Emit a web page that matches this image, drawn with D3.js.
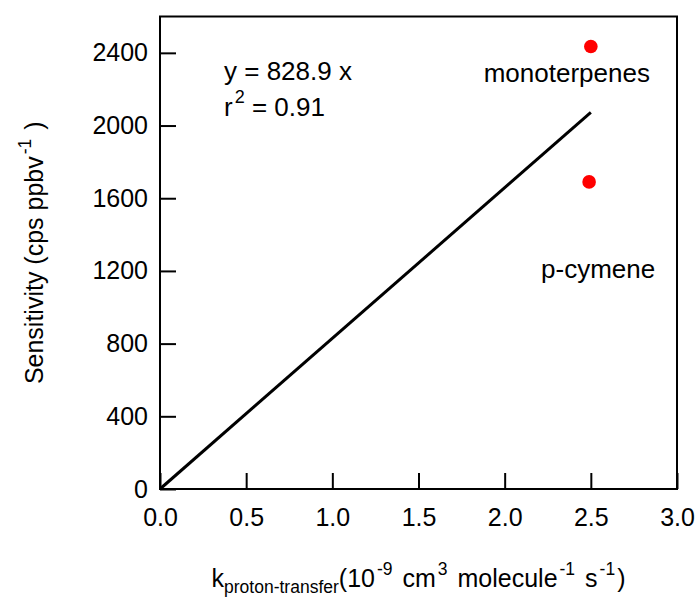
<!DOCTYPE html>
<html>
<head>
<meta charset="utf-8">
<script src="https://cdn.jsdelivr.net/npm/d3@7"></script>
<style>
  html, body { margin: 0; padding: 0; background: #fff; }
  svg { display: block; font-family: "Liberation Sans", Arial, Helvetica, sans-serif; }
</style>
</head>
<body>
<svg id="chart" width="697" height="599"></svg>
<script>
// Measured compounds: proton-transfer rate constant vs. sensitivity
const speciesNames = ["monoterpenes", "p-cymene"];
const kValues = [2.5, 2.49];
const sensitivities = [2435, 1690];

// Linear fit through the origin
const fitSlope = 828.9;
const fitR2 = 0.91;
const fitRange = [0, 2.5];

// Axis ticks
const xTicks = [0, 0.5, 1.0, 1.5, 2.0, 2.5, 3.0];
const yTicks = [0, 400, 800, 1200, 1600, 2000, 2400];
const xDomain = [0, 3];
const yDomain = [0, 2600];

const svg = d3.select("#chart");
const plot = { left: 160, right: 677, top: 16.5, bottom: 489 };

const x = d3.scaleLinear().domain(xDomain).range([plot.left, plot.right]);
const y = d3.scaleLinear().domain(yDomain).range([plot.bottom, plot.top]);

const tickFont = 25;

// Y axis (ticks point inward)
const yAxis = svg.append("g")
  .attr("transform", `translate(${plot.left},0)`)
  .call(d3.axisLeft(y).tickValues(yTicks).tickFormat(d3.format("d"))
    .tickSizeInner(-16).tickSizeOuter(0).tickPadding(12));
yAxis.select(".domain").remove();
yAxis.selectAll(".tick line").attr("stroke", "#000").attr("stroke-width", 2);
yAxis.selectAll(".tick text")
  .attr("fill", "#000").attr("font-size", tickFont)
  .attr("font-family", "Liberation Sans, Arial, sans-serif");

// X axis (ticks point inward)
const xAxis = svg.append("g")
  .attr("transform", `translate(0,${plot.bottom})`)
  .call(d3.axisBottom(x).tickValues(xTicks).tickFormat(d3.format(".1f"))
    .tickSizeInner(-16).tickSizeOuter(0).tickPadding(19));
xAxis.select(".domain").remove();
xAxis.selectAll(".tick line").attr("stroke", "#000").attr("stroke-width", 2);
xAxis.selectAll(".tick text")
  .attr("fill", "#000").attr("font-size", tickFont)
  .attr("font-family", "Liberation Sans, Arial, sans-serif");

// Plot frame
svg.append("rect")
  .attr("x", plot.left).attr("y", plot.top)
  .attr("width", plot.right - plot.left).attr("height", plot.bottom - plot.top)
  .attr("fill", "none").attr("stroke", "#000").attr("stroke-width", 2);

// Fit line
const fitPoints = fitRange.map(k => [k, fitSlope * k]);
svg.append("path")
  .datum(fitPoints)
  .attr("d", d3.line().x(d => x(d[0])).y(d => y(d[1])))
  .attr("fill", "none").attr("stroke", "#000").attr("stroke-width", 3);

// Data points
const points = speciesNames.map((name, i) => ({ name, k: kValues[i], s: sensitivities[i] }));
svg.append("g").selectAll("circle")
  .data(points).join("circle")
  .attr("cx", d => x(d.k)).attr("cy", d => y(d.s))
  .attr("r", 6.8).attr("fill", "#ff0000");

// Compound labels (offset from their markers)
const labelOffsets = { "monoterpenes": [-24, 36], "p-cymene": [9, 96] };
svg.append("g").selectAll("text")
  .data(points).join("text")
  .attr("x", d => x(d.k) + labelOffsets[d.name][0])
  .attr("y", d => y(d.s) + labelOffsets[d.name][1])
  .attr("text-anchor", "middle").attr("font-size", 26).attr("fill", "#000")
  .text(d => d.name);

// Fit equation
const eq = svg.append("g").attr("font-size", 26).attr("fill", "#000");
eq.append("text").attr("x", 224).attr("y", 80).text(`y = ${fitSlope} x`);
const r2 = eq.append("text").attr("x", 224).attr("y", 116);
r2.append("tspan").text("r");
r2.append("tspan").attr("font-size", 18).attr("dy", -13).attr("dx", 2).text("2");
r2.append("tspan").attr("dy", 13).text(` = ${fitR2}`);

// X axis title
const xt = svg.append("text")
  .attr("x", (plot.left + plot.right) / 2).attr("y", 587)
  .attr("text-anchor", "middle").attr("font-size", 25).attr("fill", "#000");
xt.append("tspan").text("k");
xt.append("tspan").attr("font-size", 17.5).attr("dy", 6).text("proton-transfer");
xt.append("tspan").attr("dy", -6).text("(10");
xt.append("tspan").attr("font-size", 17.5).attr("dy", -12).attr("dx", 2).text("-9");
xt.append("tspan").attr("dy", 12).attr("dx", 3).text(" cm");
xt.append("tspan").attr("font-size", 17.5).attr("dy", -12).attr("dx", 2).text("3");
xt.append("tspan").attr("dy", 12).attr("dx", 3).text(" molecule");
xt.append("tspan").attr("font-size", 17.5).attr("dy", -12).attr("dx", 2).text("-1");
xt.append("tspan").attr("dy", 12).attr("dx", 3).text(" s");
xt.append("tspan").attr("font-size", 17.5).attr("dy", -12).attr("dx", 2).text("-1");
xt.append("tspan").attr("dy", 12).attr("dx", 2).text(")");

// Y axis title
const yt = svg.append("text")
  .attr("transform", `translate(43,${(plot.top + plot.bottom) / 2}) rotate(-90)`)
  .attr("text-anchor", "middle").attr("font-size", 25).attr("fill", "#000");
yt.append("tspan").text("Sensitivity (cps ppbv");
yt.append("tspan").attr("font-size", 17.5).attr("dy", -12).attr("dx", 2).text("-1");
yt.append("tspan").attr("dy", 12).attr("dx", 2).text(" )");
</script>
</body>
</html>
